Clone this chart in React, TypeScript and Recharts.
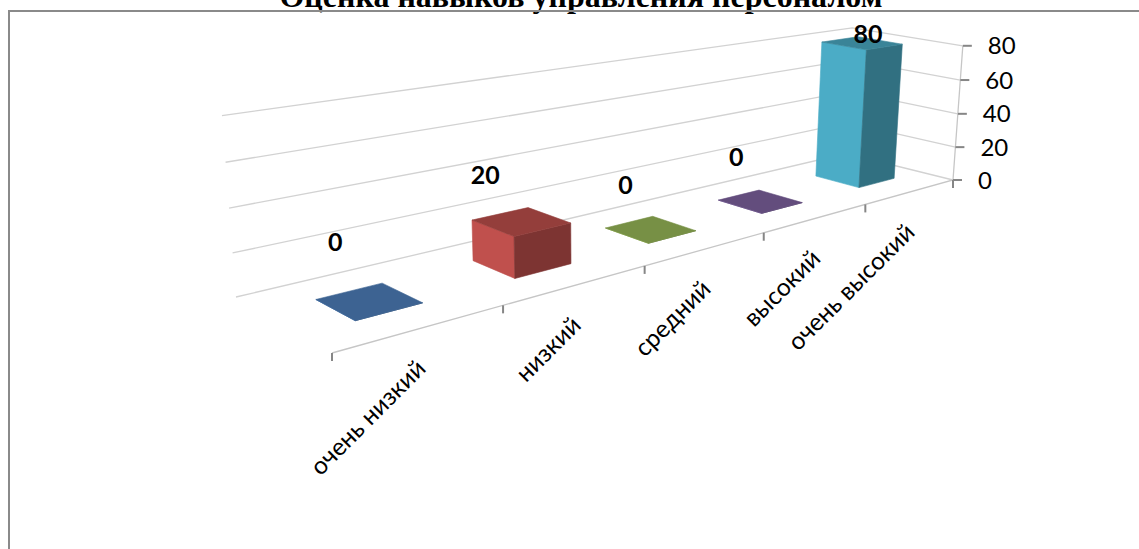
import { BarChart, Bar, XAxis, YAxis, CartesianGrid, LabelList } from 'recharts';

const categories = ['очень низкий', 'низкий', 'средний', 'высокий', 'очень высокий'];
const values = [0, 20, 0, 0, 80];
const yTicks = [0, 20, 40, 60, 80];
const seriesColors = ['#4f81bd', '#c0504d', '#9bbb59', '#8064a2', '#4bacc6'];
const title = 'Оценка навыков управления персоналом';

const W = 1139;
const H = 549;
const FONT = 'Lato, "Open Sans", sans-serif';
// the axes need one pixel each or they are not drawn at all
const PLOT_W = W - 1;
const PLOT_H = H - 1;

// px offsets of the data labels from the top of their bar
const labelNudge = [[-34, -60], [-36, -48], [-25, -45], [-24, -45], [6, -10]];

// the floor of the 3D box on screen: front-left, front-right, back-right, back-left
const [x0, y0] = [332, 353];
const [x1, y1] = [953, 180];
const [x2, y2] = [846, 153.5];
const [x3, y3] = [236, 297];
// where the vertical edges meet, and how strong the height is
const VX = 600;
const VY = 5000;
const S = -0.0412;

const den = (x1 - x2) * (y3 - y2) - (x3 - x2) * (y1 - y2);
const sx = x0 - x1 + x2 - x3;
const sy = y0 - y1 + y2 - y3;
const g = (sx * (y3 - y2) - (x3 - x2) * sy) / den;
const k = ((x1 - x2) * sy - sx * (y1 - y2)) / den;

// u along the categories, v into the depth, h up the value axis (all 0..1)
const project = (u: number, v: number, h: number) => {
  const px = (x1 - x0 + g * x1) * u + (x3 - x0 + k * x3) * v + x0 + h * S * VX;
  const py = (y1 - y0 + g * y1) * u + (y3 - y0 + k * y3) * v + y0 + h * S * VY;
  const w = g * u + k * v + 1 + h * S;
  return [px / w, py / w];
};
const toU = (x: number) => (x - 1) / PLOT_W;
const toH = (y: number) => (PLOT_H - y) / PLOT_H;
const pts = (list: number[][]) => list.map((p) => p.join(',')).join(' ');

const shade = (hex: string, f: number) => {
  const n = parseInt(hex.slice(1), 16);
  const c = [n >> 16, (n >> 8) & 255, n & 255].map((a) => Math.round(a * f));
  return `rgb(${c.join(',')})`;
};

const Face = ({ points, fill }: any) => <polygon points={pts(points)} fill={fill} stroke={fill} strokeWidth={0.6} />;

const BarBox = (props: any) => {
  const { x, y, width, height, index } = props;
  const a = toU(x);
  const b = toU(x + width);
  const top = toH(y);
  const base = toH(y + height);
  const color = seriesColors[index];
  const v0 = 0.3;
  const v1 = 0.7;
  const left = [project(a, v0, base), project(a, v1, base), project(a, v1, top), project(a, v0, top)];
  const front = [project(a, v0, base), project(b, v0, base), project(b, v0, top), project(a, v0, top)];
  const cap = [project(a, v0, top), project(b, v0, top), project(b, v1, top), project(a, v1, top)];
  return (
    <g>
      <Face points={left} fill={color} />
      <Face points={front} fill={shade(color, 0.65)} />
      <Face points={cap} fill={shade(color, 0.77)} />
    </g>
  );
};

const BarLabel = (props: any) => {
  const { x, y, width, index, value } = props;
  const [px, py] = project(toU(x + width / 2), 0.5, toH(y));
  return (
    <text
      x={px + labelNudge[index][0]}
      y={py + labelNudge[index][1]}
      textAnchor="middle"
      dominantBaseline="central"
      fontFamily={FONT}
      fontWeight={700}
      fontSize={25}
      fill="#000"
    >
      {value}
    </text>
  );
};

const GridLine = (props: any) => {
  const h = toH(props.y1);
  const wall = [project(0, 1, h), project(1, 1, h), project(1, 0, h)];
  const edgeBottom = project(1, 0, 0);
  const edgeTop = project(1, 0, 1);
  const frontLeft = project(0, 0, 0);
  return (
    <g key={props.key} fill="none" stroke="#d2d2d2" strokeWidth={1.3}>
      <polyline points={pts(wall)} />
      {h === 0 && <polyline points={pts([frontLeft, edgeBottom, edgeTop])} stroke="#c6c6c6" />}
    </g>
  );
};

const CategoryTick = (props: any) => {
  const { x, index, payload } = props;
  const band = PLOT_W / categories.length;
  const mark = (px: number) => {
    const [mx, my] = project(toU(px), 0, 0);
    return <line x1={mx} y1={my} x2={mx} y2={my + 8} stroke="#868686" strokeWidth={2} />;
  };
  const [cx, cy] = project(toU(x), 0, 0);
  const lx = cx + 5.5;
  const ly = cy + 42;
  return (
    <g>
      {mark(x - band / 2)}
      {index === categories.length - 1 && mark(x + band / 2)}
      <text
        x={lx}
        y={ly}
        textAnchor="end"
        fontFamily={FONT}
        fontSize={24.5}
        fill="#000"
        transform={`rotate(-45 ${lx} ${ly})`}
      >
        {payload.value}
      </text>
    </g>
  );
};

const ValueTick = (props: any) => {
  const [px, py] = project(1, 0, toH(props.y));
  return (
    <g>
      <line x1={px} y1={py} x2={px + 9} y2={py} stroke="#868686" strokeWidth={2} />
      <text x={px + 25} y={py - 1} dominantBaseline="central" fontFamily={FONT} fontSize={24} fill="#000">
        {props.payload.value}
      </text>
    </g>
  );
};

const data = categories.map((name, i) => ({ name, value: values[i] }));

export default function App() {
  return (
    <div style={{ position: 'fixed', left: 0, top: 0, width: W, height: H, overflow: 'hidden', background: '#fff' }}>
      <div
        style={{
          position: 'absolute',
          left: 0,
          width: 1162,
          top: -22.5,
          textAlign: 'center',
          fontFamily: '"Liberation Serif", serif',
          fontWeight: 700,
          fontSize: 32,
          color: '#000',
          whiteSpace: 'nowrap',
        }}
      >
        {title}
      </div>
      <div
        style={{
          position: 'absolute',
          left: 7.5,
          top: 9.5,
          width: W,
          height: H,
          borderLeft: '2.5px solid #8a8a8a',
          borderTop: '2.5px solid #8a8a8a',
        }}
      />
      <div style={{ position: 'absolute', left: 0, top: 0 }}>
        <BarChart
          width={W}
          height={H}
          data={data}
          margin={{ top: 0, right: 0, bottom: 0, left: 0 }}
          barCategoryGap="30%"
        >
          <CartesianGrid vertical={false} horizontal={GridLine as any} />
          <XAxis dataKey="name" height={1} interval={0} axisLine={false} tickLine={false} tick={CategoryTick as any} />
          <YAxis width={1} domain={[0, 80]} ticks={yTicks} interval={0} axisLine={false} tickLine={false} tick={ValueTick as any} />
          <Bar dataKey="value" isAnimationActive={false} shape={BarBox as any}>
            <LabelList dataKey="value" content={BarLabel as any} />
          </Bar>
        </BarChart>
      </div>
    </div>
  );
}
